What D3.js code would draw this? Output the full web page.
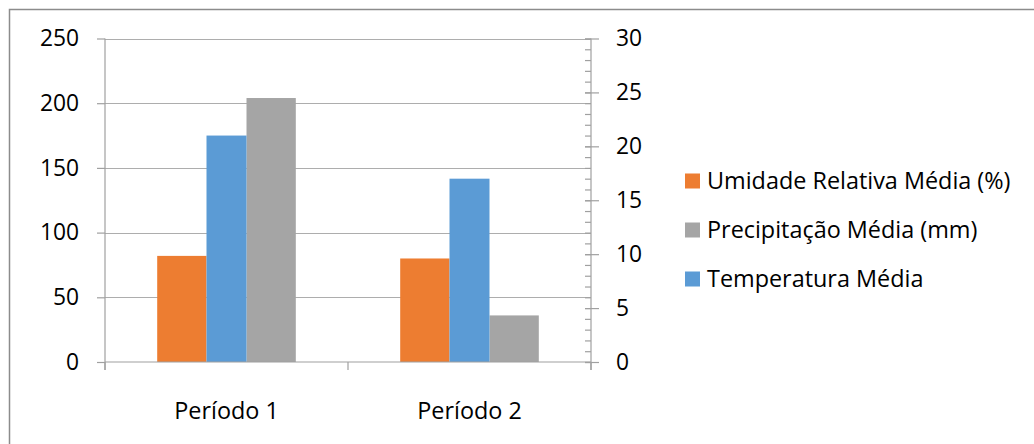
<!DOCTYPE html>
<html>
<head>
<meta charset="utf-8">
<script src="https://cdn.jsdelivr.net/npm/d3@7"></script>
<style>
  html, body { margin: 0; padding: 0; background: #fff; }
  svg { display: block; }
  text { font-family: "Open Sans", "Noto Sans", sans-serif; fill: #000; }
</style>
</head>
<body>
<script>
// ---- data ----
const categories = ["Período 1", "Período 2"];
const umidade = [82, 80];          // primary axis
const precipitacao = [204, 36];    // primary axis
const temperatura = [21, 17];      // secondary axis
const leftTicks = [0, 50, 100, 150, 200, 250];
const rightTicks = [0, 5, 10, 15, 20, 25, 30];
const rightMinorTicks = d3.range(0, 31, 1);
const seriesNames = ["Umidade Relativa Média (%)", "Precipitação Média (mm)", "Temperatura Média"];
const seriesColors = ["#ED7D31", "#A5A5A5", "#5B9BD5"];

const W = 1034, H = 444;
const FS = 22.8;
const FSL = 23.4;
const svg = d3.select("body").append("svg").attr("width", W).attr("height", H);

// chart frame (cropped at right and bottom)
svg.append("rect").attr("x", 9.5).attr("y", 9.5).attr("width", W + 20).attr("height", H + 20)
  .attr("fill", "none").attr("stroke", "#8c8c8c").attr("stroke-width", 1.5);

const plot = { left: 105, right: 591, top: 38.5, bottom: 362 };

const yL = d3.scaleLinear().domain([0, 250]).range([plot.bottom, plot.top]);
const yR = d3.scaleLinear().domain([0, 30]).range([plot.bottom, plot.top]);
const x0 = d3.scaleBand().domain(categories).range([plot.left, plot.right]).paddingInner(0).paddingOuter(0);

// primary cluster (orange, gray) and secondary cluster (blue)
const primaryKeys = ["umidade", "precipitacao"];
const x1 = d3.scaleBand().domain(primaryKeys).range([0, x0.bandwidth()])
  .paddingInner(0.448).paddingOuter(0.5845);
const x2 = d3.scaleBand().domain(["temperatura"]).range([0, x0.bandwidth()])
  .paddingInner(0).paddingOuter(2.5375);

// gridlines
svg.append("g").selectAll("line").data(leftTicks.filter(d => d > 0)).join("line")
  .attr("x1", plot.left).attr("x2", plot.right)
  .attr("y1", d => Math.round(yL(d)) + 0.5).attr("y2", d => Math.round(yL(d)) + 0.5)
  .attr("stroke", "#adadad").attr("stroke-width", 1.2);

// bars
const bars = svg.append("g");
categories.forEach((c, i) => {
  bars.append("rect")
    .attr("x", x0(c) + x1("umidade")).attr("width", x1.bandwidth())
    .attr("y", yL(umidade[i])).attr("height", yL(0) - yL(umidade[i]))
    .attr("fill", seriesColors[0]);
  bars.append("rect")
    .attr("x", x0(c) + x1("precipitacao")).attr("width", x1.bandwidth())
    .attr("y", yL(precipitacao[i])).attr("height", yL(0) - yL(precipitacao[i]))
    .attr("fill", seriesColors[1]);
  bars.append("rect")
    .attr("x", x0(c) + x2("temperatura")).attr("width", x2.bandwidth())
    .attr("y", yR(temperatura[i])).attr("height", yR(0) - yR(temperatura[i]))
    .attr("fill", seriesColors[2]);
});

const axisColor = "#a0a0a0";

// left axis
const gL = svg.append("g").attr("transform", `translate(${plot.left},0)`)
  .call(d3.axisLeft(yL).tickValues(leftTicks).tickSize(8).tickSizeOuter(0).tickPadding(18));
gL.select(".domain").remove();
gL.selectAll("line").attr("stroke", axisColor).attr("stroke-width", 1.2);
gL.selectAll("text").style("font-size", FS + "px").style("font-family", '"Open Sans", sans-serif').attr("fill", "#000");
svg.append("line").attr("x1", plot.left).attr("x2", plot.left).attr("y1", plot.top).attr("y2", plot.bottom + 8)
  .attr("stroke", axisColor).attr("stroke-width", 1.2);

// right axis: minor ticks (inside), major ticks (crossing)
const gRm = svg.append("g").attr("transform", `translate(${plot.right},0)`)
  .call(d3.axisRight(yR).tickValues(rightMinorTicks).tickSize(-6).tickSizeOuter(0).tickFormat(""));
gRm.select(".domain").remove();
gRm.selectAll("line").attr("stroke", axisColor).attr("stroke-width", 1.2);
const gR = svg.append("g").attr("transform", `translate(${plot.right},0)`)
  .call(d3.axisRight(yR).tickValues(rightTicks).tickSize(8).tickSizeOuter(0).tickPadding(17));
gR.select(".domain").remove();
gR.selectAll("line").attr("x1", -6).attr("stroke", axisColor).attr("stroke-width", 1.2);
gR.selectAll("text").style("font-size", FS + "px").style("font-family", '"Open Sans", sans-serif').attr("fill", "#000");
svg.append("line").attr("x1", plot.right).attr("x2", plot.right).attr("y1", plot.top).attr("y2", plot.bottom + 8)
  .attr("stroke", axisColor).attr("stroke-width", 1.2);

// bottom axis
svg.append("line").attr("x1", plot.left).attr("x2", plot.right).attr("y1", plot.bottom).attr("y2", plot.bottom)
  .attr("stroke", axisColor).attr("stroke-width", 1.2);
const gB = svg.append("g").attr("transform", `translate(0,${plot.bottom})`)
  .call(d3.axisBottom(x0).tickSize(0).tickPadding(0));
gB.select(".domain").remove();
gB.selectAll("text").attr("y", 40).attr("dy", "0.71em")
  .style("font-size", FSL + "px").style("font-family", '"Open Sans", sans-serif').attr("fill", "#000");
const boundaries = categories.map(c => x0(c)).concat([x0(categories[categories.length - 1]) + x0.bandwidth()]);
svg.append("g").selectAll("line").data(boundaries).join("line")
  .attr("x1", d => d).attr("x2", d => d).attr("y1", plot.bottom).attr("y2", plot.bottom + 8)
  .attr("stroke", axisColor).attr("stroke-width", 1.2);

// legend
const legend = svg.append("g").attr("transform", "translate(685,181)");
seriesNames.forEach((name, i) => {
  const g = legend.append("g").attr("transform", `translate(0,${i * 49})`);
  g.append("rect").attr("x", 0).attr("y", -7.5).attr("width", 15).attr("height", 15).attr("fill", seriesColors[i]);
  g.append("text").attr("x", 22).attr("y", 0).attr("dy", "0.35em")
    .style("font-size", FSL + "px").text(name);
});
</script>
</body>
</html>
